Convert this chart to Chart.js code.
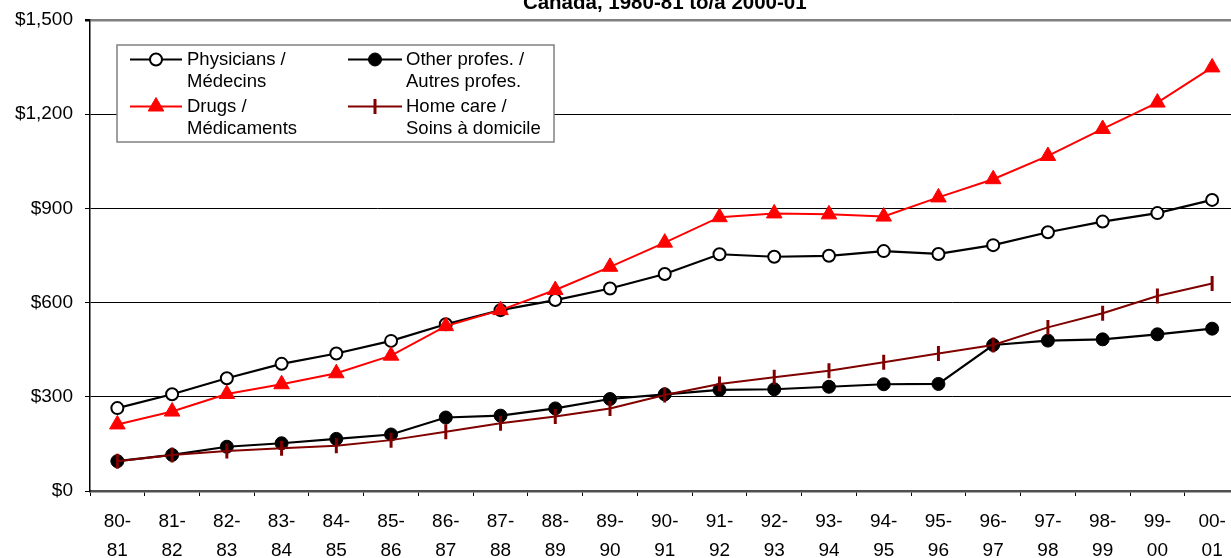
<!DOCTYPE html>
<html>
<head>
<meta charset="utf-8">
<script src="https://cdn.jsdelivr.net/npm/chart.js"></script>
<style>
    html, body { margin: 0; padding: 0; background: #fff; overflow: hidden; }
    #wrap { position: relative; width: 1250px; height: 558px; }
</style>
</head>
<body>
<div id="wrap"><canvas id="lineChartCanvas"></canvas></div>
<script>
// Données ($ par habitant)
const yearLabels = [['80-','81'],['81-','82'],['82-','83'],['83-','84'],['84-','85'],['85-','86'],['86-','87'],
    ['87-','88'],['88-','89'],['89-','90'],['90-','91'],['91-','92'],['92-','93'],['93-','94'],['94-','95'],
    ['95-','96'],['96-','97'],['97-','98'],['98-','99'],['99-','00'],['00-','01']];
const physicians = [264, 308, 359, 405, 438, 478, 531, 576, 608, 645, 691, 754, 746, 749, 764, 755, 783, 824, 858, 885, 927];
const otherProfs = [95, 115, 141, 152, 166, 180, 234, 240, 263, 293, 308, 322, 324, 332, 340, 341, 465, 479, 483, 499, 517];
const drugs = [212, 253, 309, 340, 375, 431, 525, 576, 640, 714, 791, 872, 884, 881, 874, 935, 993, 1067, 1153, 1237, 1349];
const homeCare = [95, 115, 127, 136, 144, 162, 189, 216, 237, 263, 306, 341, 362, 383, 410, 438, 465, 521, 566, 621, 661];
const legendLines = [['Physicians /', 'Médecins'], ['Other profes. /', 'Autres profes.'],
    ['Drugs /', 'Médicaments'], ['Home care /', 'Soins à domicile']];
const chartTitle = 'Canada, 1980-81 to/a 2000-01';

const FONT = '"Liberation Sans", Arial, sans-serif';

// titre (coupé en haut comme l'original)
const titlePlugin = {
    id: 'topTitle',
    afterDraw(chart) {
        const ctx = chart.ctx;
        const area = chart.chartArea;
        ctx.save();
        ctx.font = 'bold 20.5px ' + FONT;
        ctx.fillStyle = '#000';
        ctx.textAlign = 'center';
        ctx.textBaseline = 'alphabetic';
        ctx.fillText(chartTitle, (area.left + area.right) / 2, 9);
        ctx.restore();
    }
};

// légende encadrée dans la zone du graphique
const boxLegend = {
    id: 'boxLegend',
    afterDraw(chart) {
        const ctx = chart.ctx;
        const a = chart.chartArea;
        const bx = a.left + 27, by = a.top + 25, bw = 437, bh = 97;
        ctx.save();
        ctx.fillStyle = '#fff';
        ctx.fillRect(bx, by, bw, bh);
        ctx.strokeStyle = '#808080';
        ctx.lineWidth = 1.5;
        ctx.strokeRect(bx, by, bw, bh);

        const cols = [{ l0: bx + 13, l1: bx + 65, tx: bx + 70 }, { l0: bx + 231, l1: bx + 285, tx: bx + 289 }];
        const rows = [by + 14.5, by + 61.5];
        ctx.font = '18.5px ' + FONT;
        ctx.textBaseline = 'middle';
        ctx.textAlign = 'left';
        chart.data.datasets.forEach(function (ds, i) {
            const c = cols[i % 2];
            const y = rows[Math.floor(i / 2)];
            ctx.strokeStyle = ds.borderColor;
            ctx.lineWidth = ds.borderWidth;
            ctx.beginPath();
            ctx.moveTo(c.l0, y);
            ctx.lineTo(c.l1, y);
            ctx.stroke();
            ctx.fillStyle = ds.pointBackgroundColor;
            ctx.strokeStyle = ds.pointBorderColor;
            ctx.lineWidth = ds.pointBorderWidth;
            Chart.helpers.drawPoint(ctx, {
                pointStyle: ds.pointStyle,
                rotation: ds.pointRotation || 0,
                radius: ds.pointRadius,
                borderWidth: ds.pointBorderWidth
            }, (c.l0 + c.l1) / 2, y);
            ctx.fillStyle = '#000';
            ctx.fillText(legendLines[i][0], c.tx, y);
            ctx.fillText(legendLines[i][1], c.tx, y + 22.5);
        });
        ctx.restore();
    }
};

const lineCtx = document.getElementById('lineChartCanvas').getContext('2d');
const lineChart = new Chart(lineCtx, {
    type: 'line',
    data: {
        labels: yearLabels,
        datasets: [{
            label: legendLines[0].join(' '),
            data: physicians,
            borderColor: '#000',
            borderWidth: 2.2,
            pointStyle: 'circle',
            pointRadius: 6,
            pointBackgroundColor: '#fff',
            pointBorderColor: '#000',
            pointBorderWidth: 2,
            order: 4
        }, {
            label: legendLines[1].join(' '),
            data: otherProfs,
            borderColor: '#000',
            borderWidth: 2.2,
            pointStyle: 'circle',
            pointRadius: 6.5,
            pointBackgroundColor: '#000',
            pointBorderColor: '#000',
            pointBorderWidth: 1,
            order: 3
        }, {
            label: legendLines[2].join(' '),
            data: drugs,
            borderColor: '#ff0000',
            borderWidth: 2,
            pointStyle: 'triangle',
            pointRadius: 9,
            pointBackgroundColor: '#ff0000',
            pointBorderColor: '#ff0000',
            pointBorderWidth: 1,
            order: 2
        }, {
            label: legendLines[3].join(' '),
            data: homeCare,
            borderColor: '#800000',
            borderWidth: 2,
            pointStyle: 'line',
            pointRotation: 90,
            pointRadius: 7.5,
            pointBackgroundColor: '#800000',
            pointBorderColor: '#800000',
            pointBorderWidth: 3,
            order: 1
        }]
    },
    options: {
        responsive: true,
        maintainAspectRatio: false,
        animation: false,
        layout: { padding: { left: 0, right: 10, top: 20, bottom: 0 } },
        plugins: {
            legend: { display: false },
            tooltip: { enabled: false }
        },
        scales: {
            x: {
                offset: true,
                afterFit: function (scale) {
                    scale.height = 67;
                    scale.paddingLeft = 0;
                    scale.paddingRight = 0;
                },
                grid: {
                    offset: true,
                    drawOnChartArea: false,
                    drawTicks: true,
                    tickLength: 5,
                    tickColor: '#000'
                },
                border: { display: true, color: '#505050', width: 2.5 },
                ticks: {
                    color: '#000',
                    padding: 11,
                    maxRotation: 0,
                    autoSkip: false,
                    font: { family: FONT, size: 19, lineHeight: 1.55 }
                }
            },
            y: {
                min: 0,
                max: 1500,
                afterFit: function (scale) {
                    scale.width = 90;
                    scale.paddingTop = 0;
                    scale.paddingBottom = 0;
                },
                grid: {
                    color: function (c) { return c.tick && c.tick.value === 1500 ? '#808080' : '#000'; },
                    lineWidth: function (c) { return c.tick && c.tick.value === 1500 ? 2.5 : 1; },
                    tickLength: 5,
                    tickColor: '#000'
                },
                border: { display: true, color: '#000', width: 1.5 },
                ticks: {
                    stepSize: 300,
                    color: '#000',
                    padding: 12,
                    font: { family: FONT, size: 19 },
                    callback: function (v) { return '$' + v.toLocaleString('en-US'); }
                }
            }
        }
    },
    plugins: [titlePlugin, boxLegend]
});
</script>
</body>
</html>
